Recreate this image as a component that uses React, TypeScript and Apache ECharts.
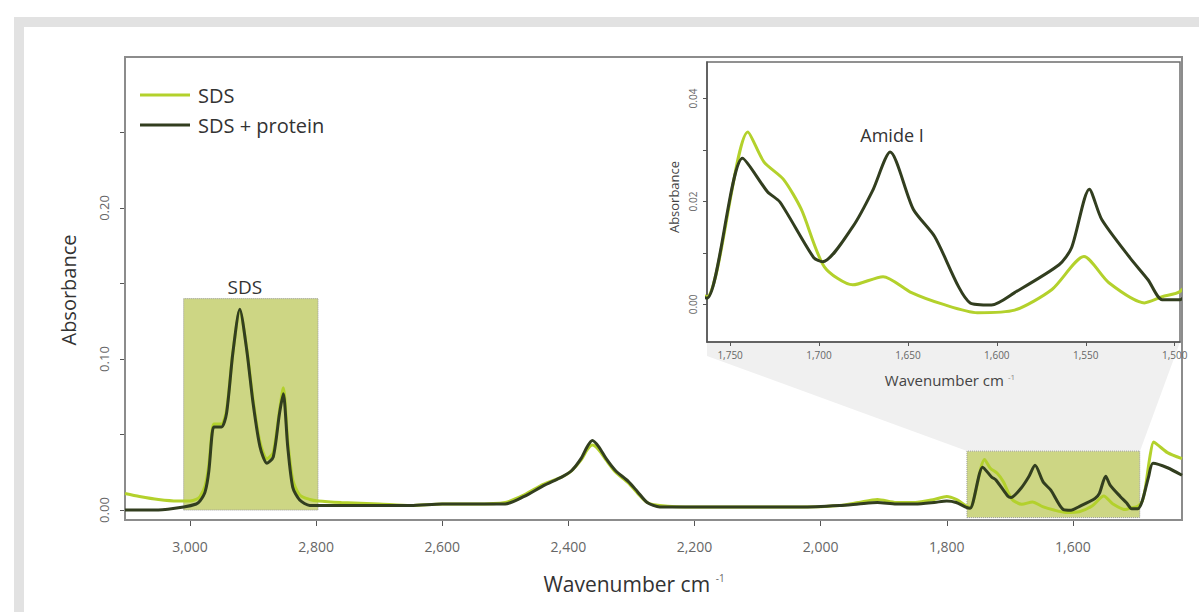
import React, { useEffect, useRef } from "react";
import * as echarts from "echarts";

// ---- data (wavenumber cm-1, absorbance) ----
const wnSds = [3103, 3080, 3050, 3020, 3000, 2990, 2984, 2976, 2970, 2965, 2962, 2950, 2942, 2932, 2921, 2910, 2900, 2889, 2878, 2868, 2858, 2852, 2845, 2837, 2826, 2810, 2797, 2760, 2700, 2650, 2600, 2550, 2500, 2470, 2440, 2410, 2395, 2380, 2370, 2362, 2352, 2340, 2325, 2305, 2290, 2275, 2255, 2200, 2100, 2030, 1970, 1940, 1910, 1880, 1850, 1820, 1800, 1785, 1770, 1763, 1740, 1731, 1720, 1710, 1697, 1681, 1664, 1648, 1630, 1611, 1590, 1569, 1551, 1537, 1517, 1507, 1497, 1490, 1485, 1478, 1472, 1465, 1450, 1427];
const absSds = [0.011, 0.009, 0.007, 0.006, 0.006, 0.007, 0.009, 0.016, 0.030, 0.052, 0.057, 0.057, 0.066, 0.104, 0.132, 0.107, 0.073, 0.045, 0.034, 0.038, 0.066, 0.081, 0.046, 0.020, 0.010, 0.007, 0.006, 0.005, 0.004, 0.003, 0.004, 0.004, 0.005, 0.010, 0.017, 0.022, 0.026, 0.033, 0.040, 0.043, 0.040, 0.033, 0.025, 0.018, 0.011, 0.005, 0.003, 0.002, 0.002, 0.002, 0.003, 0.005, 0.007, 0.005, 0.005, 0.007, 0.009, 0.007, 0.003, 0.0015, 0.0335, 0.0277, 0.0243, 0.0185, 0.0073, 0.0038, 0.0054, 0.0023, 0.0, -0.0016, -0.0011, 0.0029, 0.0093, 0.0042, 0.0003, 0.0015, 0.0025, 0.006, 0.015, 0.035, 0.045, 0.043, 0.038, 0.034];

const wnProt = [3103, 3050, 3010, 2990, 2984, 2976, 2970, 2965, 2962, 2950, 2942, 2932, 2921, 2910, 2900, 2889, 2878, 2868, 2858, 2852, 2845, 2837, 2826, 2810, 2797, 2760, 2700, 2650, 2600, 2550, 2500, 2470, 2440, 2410, 2395, 2380, 2370, 2362, 2352, 2340, 2325, 2305, 2290, 2275, 2255, 2200, 2100, 2030, 1970, 1940, 1910, 1880, 1850, 1820, 1800, 1785, 1770, 1763, 1743, 1729, 1722, 1703, 1698, 1681, 1670, 1660, 1647, 1635, 1615, 1603, 1590, 1565, 1558, 1548, 1541, 1525, 1515, 1507, 1497, 1490, 1480, 1473, 1450, 1427];
const absProt = [0.000, 0.000, 0.002, 0.004, 0.006, 0.012, 0.026, 0.050, 0.055, 0.055, 0.064, 0.104, 0.133, 0.106, 0.071, 0.042, 0.031, 0.035, 0.064, 0.077, 0.042, 0.015, 0.0066, 0.003, 0.003, 0.003, 0.003, 0.003, 0.004, 0.004, 0.004, 0.009, 0.016, 0.022, 0.026, 0.034, 0.042, 0.046, 0.042, 0.034, 0.026, 0.019, 0.012, 0.005, 0.002, 0.002, 0.002, 0.002, 0.003, 0.004, 0.005, 0.004, 0.004, 0.005, 0.006, 0.005, 0.002, 0.0012, 0.0284, 0.0219, 0.0199, 0.0091, 0.0083, 0.0151, 0.022, 0.0296, 0.0185, 0.0132, 0.0003, -0.0001, 0.0023, 0.0077, 0.011, 0.0224, 0.0165, 0.009, 0.0048, 0.0009, 0.0009, 0.006, 0.022, 0.031, 0.028, 0.023];

const mainXTicks = [3000, 2800, 2600, 2400, 2200, 2000, 1800, 1600];
const mainYTicks = [0, 0.05, 0.1, 0.15, 0.2, 0.25];
const mainYLabels = [0, 0.1, 0.2];
const insetXTicks = [1750, 1700, 1650, 1600, 1550, 1500];
const insetYTicks = [0, 0.01, 0.02, 0.03, 0.04];
const insetYLabels = [0, 0.02, 0.04];
// annotation boxes: [xFrom, xTo, yFrom, yTo]
const sdsBox = [3010, 2797, 0, 0.14];
const zoomBox = [1768, 1494, -0.005, 0.039];

const LIGHT = "#b3d12c";
const DARK = "#323e1f";
const FONT = "'Open Sans', 'Noto Sans', sans-serif";

const zip = (xs: number[], ys: number[]) => xs.map((x, i) => [x, ys[i]]);
const comma = (v: number) => v.toLocaleString("en-US");

export default function App() {
  const ref = useRef<HTMLDivElement>(null);
  useEffect(() => {
    if (!ref.current) return;
    const chart = echarts.init(ref.current, null, { renderer: "svg" });
    const lineBase = {
      type: "line",
      showSymbol: false,
      smooth: 0.25,
      clip: true,
    };
    chart.setOption({
      animation: false,
      textStyle: { fontFamily: FONT },
      legend: {
        orient: "vertical",
        left: 135,
        top: 78,
        itemWidth: 50,
        itemHeight: 3,
        itemGap: 6,
        icon: "rect",
        data: ["SDS", "SDS + protein"],
        textStyle: { fontSize: 20, color: "#333", fontFamily: FONT, lineHeight: 24, padding: [0, 0, 0, 3] },
      },
      grid: [
        { left: 125, top: 57, width: 1057, height: 463, show: true, borderColor: "#8c8c8c", borderWidth: 2, backgroundColor: "transparent", z: 1 },
        { left: 707, top: 62, width: 473, height: 280, show: true, borderColor: "#6e6e6e", borderWidth: 1.5, backgroundColor: "#ffffff", z: 3 },
      ],
      xAxis: [
        {
          type: "value", gridIndex: 0, inverse: true, min: 1427, max: 3103,
          axisLine: { show: true, onZero: false, lineStyle: { color: "#555", width: 1.5 } },
          axisTick: { show: true, customValues: mainXTicks, length: 6, lineStyle: { color: "#555" } },
          axisLabel: { customValues: mainXTicks, formatter: (v: number) => comma(v), color: "#666", fontSize: 14, margin: 19, fontFamily: FONT },
          splitLine: { show: false },
        },
        {
          type: "value", gridIndex: 1, inverse: true, min: 1497, max: 1763, z: 4,
          axisLine: { show: true, onZero: false, lineStyle: { color: "#555", width: 1.5 } },
          axisTick: { show: true, customValues: insetXTicks, length: 4, lineStyle: { color: "#555" } },
          axisLabel: { customValues: insetXTicks, formatter: (v: number) => comma(v), color: "#666", fontSize: 10, margin: 8, fontFamily: FONT },
          splitLine: { show: false },
        },
      ],
      yAxis: [
        {
          type: "value", gridIndex: 0, min: -0.0066, max: 0.3,
          axisLine: { show: true, onZero: false, lineStyle: { color: "#555", width: 1.5 } },
          axisTick: { show: true, customValues: mainYTicks, length: 5, lineStyle: { color: "#555" } },
          axisLabel: { customValues: mainYLabels, rotate: 90, formatter: (v: number) => v.toFixed(2), color: "#666", fontSize: 13, margin: 15, fontFamily: FONT },
          splitLine: { show: false },
        },
        {
          type: "value", gridIndex: 1, min: -0.0073, max: 0.0471, z: 4,
          axisLine: { show: true, onZero: false, lineStyle: { color: "#555", width: 1.5 } },
          axisTick: { show: true, customValues: insetYTicks, length: 4, lineStyle: { color: "#555" } },
          axisLabel: { customValues: insetYLabels, rotate: 90, formatter: (v: number) => v.toFixed(2), color: "#666", fontSize: 10, margin: 9, fontFamily: FONT },
          splitLine: { show: false },
        },
      ],
      series: [
        {
          ...lineBase, name: "SDS", xAxisIndex: 0, yAxisIndex: 0, z: 2,
          data: zip(wnSds, absSds),
          lineStyle: { color: LIGHT, width: 3 }, itemStyle: { color: LIGHT },
          markArea: {
            silent: true,
            itemStyle: { color: "rgba(172,186,50,0.6)", borderColor: "#999", borderWidth: 1, borderType: "dotted" },
            label: { show: true, position: "top", color: "#333", fontSize: 19, distance: 2, offset: [-6, 0], fontFamily: FONT },
            data: [
              [{ name: "SDS", xAxis: sdsBox[0], yAxis: sdsBox[2] }, { xAxis: sdsBox[1], yAxis: sdsBox[3] }],
              [{ name: "", xAxis: zoomBox[0], yAxis: zoomBox[2] }, { xAxis: zoomBox[1], yAxis: zoomBox[3] }],
            ],
          },
        },
        {
          ...lineBase, name: "SDS + protein", xAxisIndex: 0, yAxisIndex: 0, z: 3,
          data: zip(wnProt, absProt),
          lineStyle: { color: DARK, width: 3 }, itemStyle: { color: DARK },
        },
        {
          ...lineBase, name: "SDS", xAxisIndex: 1, yAxisIndex: 1, z: 5,
          data: zip(wnSds, absSds),
          lineStyle: { color: LIGHT, width: 3 }, itemStyle: { color: LIGHT },
        },
        {
          ...lineBase, name: "SDS + protein", xAxisIndex: 1, yAxisIndex: 1, z: 6,
          data: zip(wnProt, absProt),
          lineStyle: { color: DARK, width: 3 }, itemStyle: { color: DARK },
        },
      ],
      graphic: [
        { type: "rect", z: -20, silent: true, shape: { x: 19, y: 22, width: 1200, height: 600 }, style: { fill: "none", stroke: "#e2e2e2", lineWidth: 10 } },
        { type: "polygon", z: -10, silent: true, shape: { points: [[707, 342], [1180, 342], [1140, 451], [967, 451], [707, 356]] }, style: { fill: "#f0f0f0" } },
        { type: "text", z: 10, x: 68, y: 290, rotation: Math.PI / 2, style: { text: "Absorbance", fontSize: 20, fill: "#333", fontFamily: FONT, align: "center", verticalAlign: "middle" } },
        {
          type: "text", z: 10, x: 634, y: 584,
          style: {
            text: "{a|Wavenumber cm}{b| -1}", align: "center", verticalAlign: "middle", fontFamily: FONT,
            rich: { a: { fontSize: 21, fill: "#333", fontFamily: FONT }, b: { fontSize: 10, fill: "#666", fontFamily: FONT, verticalAlign: "top", padding: [0, 0, 12, 3] } },
          },
        },
        { type: "text", z: 10, x: 674, y: 197, rotation: Math.PI / 2, style: { text: "Absorbance", fontSize: 13, fill: "#444", fontFamily: FONT, align: "center", verticalAlign: "middle" } },
        {
          type: "text", z: 10, x: 950, y: 380,
          style: {
            text: "{a|Wavenumber cm}{b| -1}", align: "center", verticalAlign: "middle", fontFamily: FONT,
            rich: { a: { fontSize: 15, fill: "#444", fontFamily: FONT }, b: { fontSize: 8, fill: "#888", fontFamily: FONT, verticalAlign: "top", padding: [0, 0, 8, 2] } },
          },
        },
        { type: "text", z: 10, x: 892, y: 135, style: { text: "Amide I", fontSize: 18, fill: "#333", fontFamily: FONT, align: "center", verticalAlign: "middle" } },
      ],
    });
    return () => chart.dispose();
  }, []);
  return <div ref={ref} style={{ position: "absolute", left: 0, top: 0, width: 1199, height: 612, background: "#fff" }} />;
}
